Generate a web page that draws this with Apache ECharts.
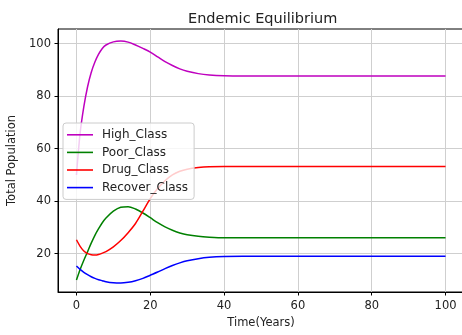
<!DOCTYPE html>
<html>
<head>
<meta charset="utf-8">
<script src="https://cdn.jsdelivr.net/npm/echarts@6/dist/echarts.min.js"></script>
<style>
  html, body { margin: 0; padding: 0; background: #fff; }
  #chart { width: 462px; height: 335px; }
</style>
</head>
<body>
<div id="chart"></div>
<script>
// time points (years)
const years = [0, 1, 2, 3, 4, 5, 6, 7, 8, 10, 12, 14, 16, 18, 20, 22, 24, 26, 28, 30, 33, 36, 40, 45, 50, 60, 70, 80, 90, 100];

const highClass = [50, 66, 76, 83.5, 89, 93, 96, 98.2, 99.5, 100.7, 101.0, 100.6, 99.5, 98.2, 96.8, 95.0, 93.2, 91.7, 90.4, 89.5, 88.6, 88.1, 87.8, 87.7, 87.7, 87.7, 87.7, 87.7, 87.7, 87.7];
const poorClass = [10, 14, 17.5, 20.7, 24, 27, 29.5, 31.8, 33.6, 36.2, 37.7, 37.9, 37.0, 35.5, 33.7, 31.8, 30.2, 28.9, 27.9, 27.2, 26.6, 26.3, 26.1, 26.1, 26.1, 26.1, 26.1, 26.1, 26.1, 26.1];
const drugClass = [25.3, 22.8, 21.0, 20.0, 19.6, 19.5, 19.7, 20.2, 20.8, 22.6, 25.0, 28.0, 31.5, 36.2, 41.0, 44.8, 47.8, 50.0, 51.4, 52.2, 52.8, 53.1, 53.2, 53.2, 53.2, 53.2, 53.2, 53.2, 53.2, 53.2];
const recoverClass = [15.3, 14.0, 12.9, 12.0, 11.2, 10.6, 10.1, 9.7, 9.3, 8.9, 8.8, 9.1, 9.7, 10.6, 11.8, 13.0, 14.3, 15.5, 16.5, 17.3, 18.1, 18.6, 18.9, 19.0, 19.0, 19.0, 19.0, 19.0, 19.0, 19.0];

const xTicks = [0, 20, 40, 60, 80, 100];
const yTicks = [20, 40, 60, 80, 100];

const seriesNames = ["High_Class", "Poor_Class", "Drug_Class", "Recover_Class"];
const seriesColors = ["#bf00bf", "#008000", "#ff0000", "#0000ff"];
const seriesData = [highClass, poorClass, drugClass, recoverClass];

const textColor = "#222";
const fontFamily = "DejaVu Sans";

const chart = echarts.init(document.getElementById("chart"));

const series = seriesNames.map((name, i) => ({
  name: name,
  type: "line",
  smooth: 0.3,
  symbol: "none",
  lineStyle: { color: seriesColors[i], width: 1.5 },
  itemStyle: { color: seriesColors[i] },
  data: years.map((t, j) => [t, seriesData[i][j]]),
}));

const option = {
  animation: false,
  backgroundColor: "#fff",
  title: {
    text: "Endemic Equilibrium",
    left: 183,
    top: 7,
    textStyle: { fontFamily: fontFamily, fontSize: 14.5, fontWeight: "normal", color: textColor },
  },
  grid: {
    left: 58,
    top: 29,
    width: 406,
    height: 263,
    outerBoundsMode: "none",
    show: true,
    borderColor: "#000",
    borderWidth: 1,
  },
  legend: {
    orient: "vertical",
    left: 63,
    top: 123,
    icon: "rect",
    itemWidth: 26,
    itemHeight: 1.6,
    itemGap: 0,
    padding: [3, 6, 3, 4],
    backgroundColor: "rgba(255,255,255,0.8)",
    borderColor: "#ccc",
    borderWidth: 1,
    borderRadius: 3,
    textStyle: { fontFamily: fontFamily, fontSize: 12, color: textColor, lineHeight: 17.6, padding: [0, 0, 0, 4] },
    data: seriesNames,
  },
  xAxis: {
    type: "value",
    min: -5,
    max: 105,
    name: "Time(Years)",
    nameLocation: "middle",
    nameGap: 24,
    nameTextStyle: { fontFamily: fontFamily, fontSize: 11.5, color: textColor },
    axisLine: { show: true, onZero: false, lineStyle: { color: "#000", width: 1 } },
    axisTick: { show: true, customValues: xTicks, length: 3.5, lineStyle: { color: "#000" } },
    axisLabel: { customValues: xTicks, margin: 8, fontFamily: fontFamily, fontSize: 11.5, color: textColor },
    splitLine: { show: true, lineStyle: { color: "#cfcfcf", width: 1 } },
  },
  yAxis: {
    type: "value",
    min: 5.4,
    max: 105.6,
    name: "Total Population",
    nameLocation: "middle",
    nameGap: 34,
    nameTextStyle: { fontFamily: fontFamily, fontSize: 11.5, color: textColor },
    axisLine: { show: true, onZero: false, lineStyle: { color: "#000", width: 1 } },
    axisTick: { show: true, customValues: yTicks, length: 3.5, lineStyle: { color: "#000" } },
    axisLabel: { customValues: yTicks, margin: 7, fontFamily: fontFamily, fontSize: 11.5, color: textColor },
    splitLine: { show: true, lineStyle: { color: "#cfcfcf", width: 1 } },
  },
  series: series,
};

chart.setOption(option);
</script>
</body>
</html>
